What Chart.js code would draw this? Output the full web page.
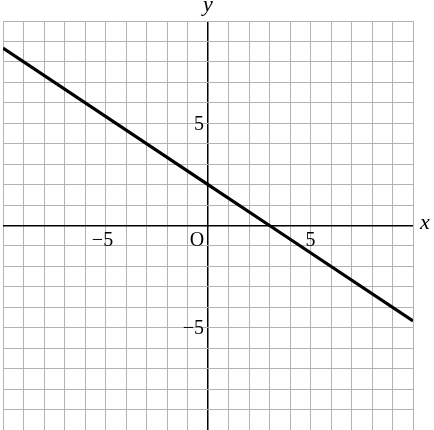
<!DOCTYPE html>
<html>
<head>
<meta charset="utf-8">
<script src="https://cdn.jsdelivr.net/npm/chart.js@4"></script>
<style>
  html, body { margin: 0; padding: 0; background: #fff; }
  #wrap { width: 434px; height: 430px; }
</style>
</head>
<body>
<div id="wrap"><canvas id="myChart"></canvas></div>
<script>
// points
const lineX = [-10, 0, 3, 10];
const lineY = [8.67, 2, 0, -4.67];
const xTickLabels = [-5, 5];
const yTickLabels = [5, -5];
const axisMin = -10;
const axisMax = 10;

const serif = "'Liberation Serif', 'DejaVu Serif', serif";

function fmt(v) {
  return v < 0 ? "\u2212" + Math.abs(v) : String(v);
}

// axis numbers, the O and the x / y letters
const axisText = {
  id: "axisText",
  afterDraw(chart) {
    const ctx = chart.ctx;
    const xs = chart.scales.x, ys = chart.scales.y;
    const x0 = xs.getPixelForValue(0), y0 = ys.getPixelForValue(0);
    ctx.save();
    ctx.fillStyle = "#000";
    ctx.font = "20px " + serif;
    ctx.textBaseline = "middle";
    ctx.textAlign = "center";
    xTickLabels.forEach(v => {
      ctx.fillText(fmt(v), xs.getPixelForValue(v) - (v < 0 ? 3 : 0), y0 + 15);
    });
    ctx.fillText("O", x0 - 11, y0 + 15);
    ctx.textAlign = "right";
    yTickLabels.forEach(v => {
      ctx.fillText(fmt(v), x0 - 4, ys.getPixelForValue(v) + 1);
    });
    ctx.font = "italic 22px " + serif;
    ctx.textAlign = "center";
    ctx.fillText("y", x0, 5);
    ctx.fillText("x", chart.chartArea.right + 12, y0 - 2);
    ctx.restore();
  }
};

let ctx = document.getElementById("myChart").getContext("2d");
let myChart = new Chart(ctx, {
  type: "scatter",
  data: {
    datasets: [{
      data: lineX.map((x, i) => ({ x: x, y: lineY[i] })),
      showLine: true,
      borderColor: "#000",
      borderWidth: 3.2,
      pointRadius: 0,
      fill: false,
    }],
  },
  options: {
    responsive: true,
    maintainAspectRatio: false,
    animation: false,
    layout: { padding: { left: 3, right: 21, top: 21, bottom: -1 } },
    plugins: { legend: { display: false }, tooltip: { enabled: false } },
    scales: {
      x: {
        type: "linear",
        min: axisMin,
        max: axisMax,
        ticks: { display: false, stepSize: 1 },
        border: { display: false },
        grid: {
          drawTicks: false,
          color: c => c.tick.value === 0 ? "#000" : "#b3b3b3",
          lineWidth: c => c.tick.value === 0 ? 1.5 : 1,
        },
      },
      y: {
        type: "linear",
        min: axisMin,
        max: axisMax,
        ticks: { display: false, stepSize: 1 },
        border: { display: false },
        grid: {
          drawTicks: false,
          color: c => c.tick.value === 0 ? "#000" : "#b3b3b3",
          lineWidth: c => c.tick.value === 0 ? 1.5 : 1,
        },
      },
    },
  },
  plugins: [axisText],
});
</script>
</body>
</html>
